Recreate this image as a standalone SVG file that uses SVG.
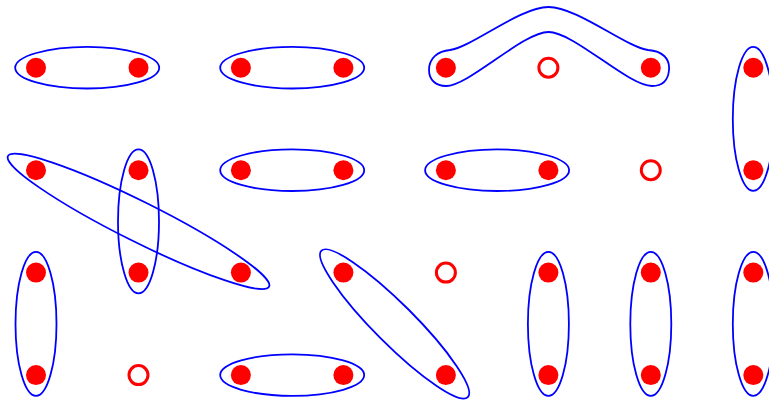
<svg xmlns="http://www.w3.org/2000/svg" width="769" height="403" viewBox="0 0 769 403">
<style>
.e{fill:none;stroke:#0000ff;stroke-width:1.8}
.d{fill:#ff0000}
.o{fill:#ffffff;stroke:#ff0000;stroke-width:3}
</style>
<rect width="769" height="403" fill="#ffffff"/>
<g id="connectors">
<ellipse class="e" cx="87.2" cy="67.7" rx="72" ry="20.8"/>
<ellipse class="e" cx="292.2" cy="67.7" rx="72" ry="20.8"/>
<path class="e" d="M450,50 C472,47 520,7 548.5,7 C577,7 626,47 648,50 C663,51 670,59 669,70 C668,82 661,86 652,86 C628,86 574,32 548.5,32 C523,32 469,86 446,86 C436,86 429,80 429,70 C429,58 438,51 450,50 Z"/>
<ellipse class="e" cx="753.3" cy="118.9" rx="20.5" ry="72"/>
<ellipse class="e" cx="292.2" cy="170.2" rx="72" ry="20.8"/>
<ellipse class="e" cx="497.1" cy="170.2" rx="72" ry="20.8"/>
<ellipse class="e" cx="138.5" cy="221.4" rx="20.5" ry="72"/>
<ellipse class="e" cx="138.5" cy="221.4" rx="146" ry="20" transform="rotate(26.57 138.5 221.4)"/>
<ellipse class="e" cx="36" cy="323.9" rx="20.5" ry="72"/>
<ellipse class="e" cx="394.6" cy="323.9" rx="103.5" ry="20" transform="rotate(45 394.6 323.9)"/>
<ellipse class="e" cx="548.4" cy="323.9" rx="20.5" ry="72"/>
<ellipse class="e" cx="650.8" cy="323.9" rx="20.5" ry="72"/>
<ellipse class="e" cx="753.3" cy="323.9" rx="20.5" ry="72"/>
<ellipse class="e" cx="292.2" cy="375.1" rx="72" ry="20.8"/>
</g>
<g id="row0">
<circle id="n00" class="d" cx="36" cy="67.7" r="10"/>
<circle id="n01" class="d" cx="138.5" cy="67.7" r="10"/>
<circle id="n02" class="d" cx="240.9" cy="67.7" r="10"/>
<circle id="n03" class="d" cx="343.4" cy="67.7" r="10"/>
<circle id="n04" class="d" cx="445.9" cy="67.7" r="10"/>
<circle id="n05" class="o" cx="548.4" cy="67.7" r="9.5"/>
<circle id="n06" class="d" cx="650.8" cy="67.7" r="10"/>
<circle id="n07" class="d" cx="753.3" cy="67.7" r="10"/>
</g>
<g id="row1">
<circle id="n10" class="d" cx="36" cy="170.2" r="10"/>
<circle id="n11" class="d" cx="138.5" cy="170.2" r="10"/>
<circle id="n12" class="d" cx="240.9" cy="170.2" r="10"/>
<circle id="n13" class="d" cx="343.4" cy="170.2" r="10"/>
<circle id="n14" class="d" cx="445.9" cy="170.2" r="10"/>
<circle id="n15" class="d" cx="548.4" cy="170.2" r="10"/>
<circle id="n16" class="o" cx="650.8" cy="170.2" r="9.5"/>
<circle id="n17" class="d" cx="753.3" cy="170.2" r="10"/>
</g>
<g id="row2">
<circle id="n20" class="d" cx="36" cy="272.6" r="10"/>
<circle id="n21" class="d" cx="138.5" cy="272.6" r="10"/>
<circle id="n22" class="d" cx="240.9" cy="272.6" r="10"/>
<circle id="n23" class="d" cx="343.4" cy="272.6" r="10"/>
<circle id="n24" class="o" cx="445.9" cy="272.6" r="9.5"/>
<circle id="n25" class="d" cx="548.4" cy="272.6" r="10"/>
<circle id="n26" class="d" cx="650.8" cy="272.6" r="10"/>
<circle id="n27" class="d" cx="753.3" cy="272.6" r="10"/>
</g>
<g id="row3">
<circle id="n30" class="d" cx="36" cy="375.1" r="10"/>
<circle id="n31" class="o" cx="138.5" cy="375.1" r="9.5"/>
<circle id="n32" class="d" cx="240.9" cy="375.1" r="10"/>
<circle id="n33" class="d" cx="343.4" cy="375.1" r="10"/>
<circle id="n34" class="d" cx="445.9" cy="375.1" r="10"/>
<circle id="n35" class="d" cx="548.4" cy="375.1" r="10"/>
<circle id="n36" class="d" cx="650.8" cy="375.1" r="10"/>
<circle id="n37" class="d" cx="753.3" cy="375.1" r="10"/>
</g>
</svg>
